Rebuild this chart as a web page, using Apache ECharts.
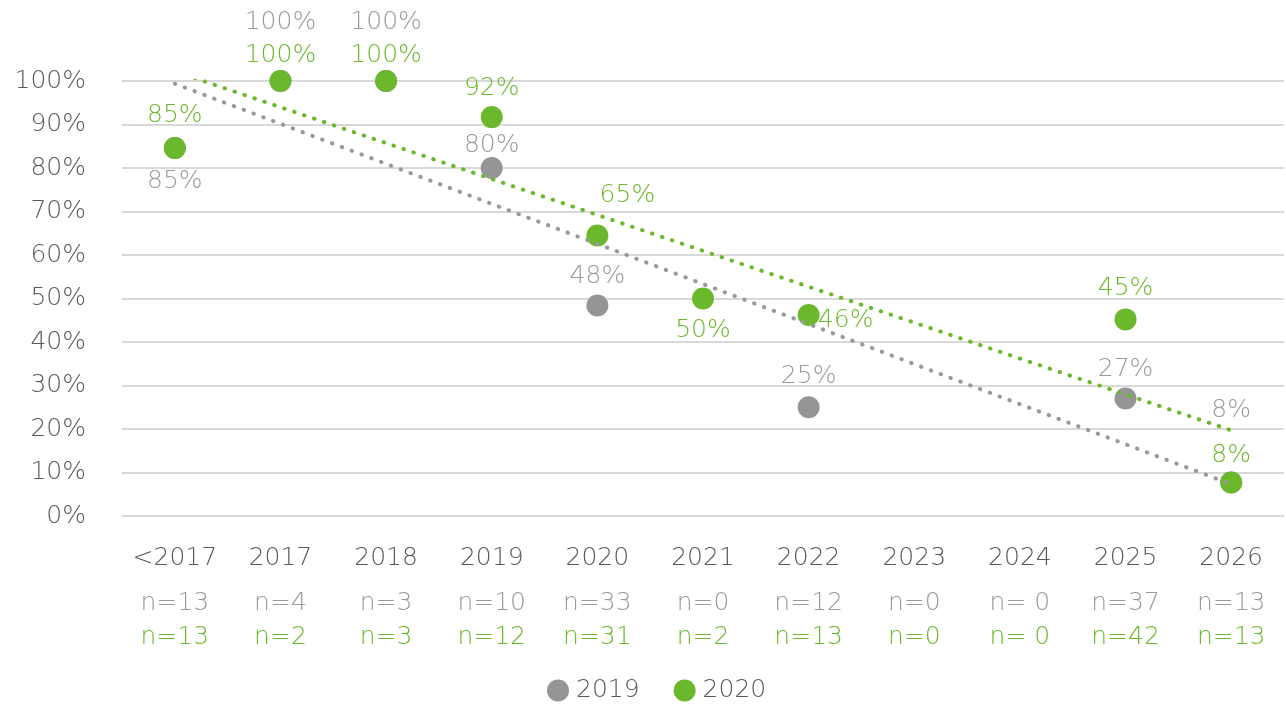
<!DOCTYPE html>
<html>
<head>
<meta charset="utf-8">
<script src="https://cdn.jsdelivr.net/npm/echarts@6/dist/echarts.min.js"></script>
<style>
  html, body { margin: 0; padding: 0; background: #fff; }
  #chart { width: 1286px; height: 708px; }
</style>
</head>
<body>
<div id="chart"></div>
<script>
// categories and counts under each year
const categories = ['<2017', '2017', '2018', '2019', '2020', '2021', '2022', '2023', '2024', '2025', '2026'];
const nLabels2019 = ['n=13', 'n=4', 'n=3', 'n=10', 'n=33', 'n=0', 'n=12', 'n=0', 'n= 0', 'n=37', 'n=13'];
const nLabels2020 = ['n=13', 'n=2', 'n=3', 'n=12', 'n=31', 'n=2', 'n=13', 'n=0', 'n= 0', 'n=42', 'n=13'];

// share in %, null = no answers that year
const values2019 = [84.6, 100, 100, 80, 48.4, null, 25, null, null, 27, 7.7];
const values2020 = [84.6, 100, 100, 91.7, 64.5, 50, 46.2, null, null, 45.2, 7.7];

const GREY = '#959595';
const GREEN = '#6cb82c';
const FONT = 'DejaVu Sans';
const FS = 25;

// label placement per point (offset from the dot centre)
const labelOffsets2019 = [[0, 34], [0, -59], [0, -59], [0, -23], [0, -29], null, [0, -31], null, null, [0, -29], [0, -72]];
const labelOffsets2020 = [[0, -32], [0, -26], [0, -26], [0, -29], [30, -40], [0, 32], [37, 5], null, null, [0, -31], [0, -27]];

// plain least squares over the points that exist, like Excel's linear trendline
function trend(values) {
  const pts = values.map((v, i) => [i, v]).filter(p => p[1] != null);
  const n = pts.length;
  const mx = pts.reduce((s, p) => s + p[0], 0) / n;
  const my = pts.reduce((s, p) => s + p[1], 0) / n;
  let sxy = 0, sxx = 0;
  pts.forEach(p => { sxy += (p[0] - mx) * (p[1] - my); sxx += (p[0] - mx) ** 2; });
  const slope = sxy / sxx;
  const icpt = my - slope * mx;
  return values.map((v, i) => icpt + slope * i);
}

function points(values, offsets) {
  return values.map((v, i) => {
    if (v == null) return '-';
    return { value: v, label: { offset: offsets[i] } };
  });
}

const chart = echarts.init(document.getElementById('chart'), null, { renderer: 'canvas' });

chart.setOption({
  animation: false,
  textStyle: { fontFamily: FONT },
  grid: { left: 122, right: 2, top: 81, bottom: 192 },
  legend: {
    data: ['2019', '2020'],
    bottom: 0,
    left: 542,
    icon: 'circle',
    itemWidth: 22,
    itemHeight: 22,
    itemGap: 34,
    textStyle: { fontSize: FS, color: '#595959', fontFamily: FONT, fontWeight: 200, padding: [0, 0, 0, 2] }
  },
  xAxis: {
    type: 'category',
    data: categories,
    boundaryGap: true,
    axisLine: { show: false },
    axisTick: { show: false },
    axisLabel: {
      margin: 14,
      interval: 0,
      formatter: (v, i) => `{cat|${v}}\n{a|${nLabels2019[i]}}\n{b|${nLabels2020[i]}}`,
      rich: {
        cat: { fontSize: FS, lineHeight: 56, color: '#595959', fontFamily: FONT, fontWeight: 200 },
        a: { fontSize: FS, lineHeight: 34, color: '#9a9a9a', fontFamily: FONT, fontWeight: 200 },
        b: { fontSize: FS, lineHeight: 34, color: GREEN, fontFamily: FONT, fontWeight: 200 }
      }
    }
  },
  yAxis: {
    type: 'value',
    min: 0,
    max: 100,
    interval: 10,
    axisLine: { show: false },
    axisTick: { show: false },
    splitLine: { lineStyle: { color: '#d9d9d9', width: 2 } },
    axisLabel: {
      margin: 36,
      fontSize: FS,
      color: '#595959',
      fontFamily: FONT,
      fontWeight: 200,
      formatter: v => v + '%'
    }
  },
  series: [
    {
      name: '2019',
      type: 'scatter',
      symbolSize: 22,
      itemStyle: { color: GREY, opacity: 1 },
      label: {
        show: true,
        position: 'inside',
        color: '#9a9a9a',
        fontSize: FS,
        fontFamily: FONT,
        fontWeight: 200,
        formatter: p => Math.round(p.value) + '%'
      },
      data: points(values2019, labelOffsets2019),
      z: 2
    },
    {
      name: '2020',
      type: 'scatter',
      symbolSize: 22,
      itemStyle: { color: GREEN, opacity: 1 },
      label: {
        show: true,
        position: 'inside',
        color: GREEN,
        fontSize: FS,
        fontFamily: FONT,
        fontWeight: 200,
        formatter: p => Math.round(p.value) + '%'
      },
      data: points(values2020, labelOffsets2020),
      z: 3
    },
    {
      name: 'trend 2019',
      type: 'line',
      data: trend(values2019),
      symbol: 'none',
      clip: true,
      lineStyle: { color: '#999', width: 4, type: [0.5, 10], cap: 'round' },
      silent: true,
      z: 4
    },
    {
      name: 'trend 2020',
      type: 'line',
      data: trend(values2020),
      symbol: 'none',
      clip: true,
      lineStyle: { color: GREEN, width: 4, type: [0.5, 10], cap: 'round' },
      silent: true,
      z: 4
    }
  ]
});
</script>
</body>
</html>
